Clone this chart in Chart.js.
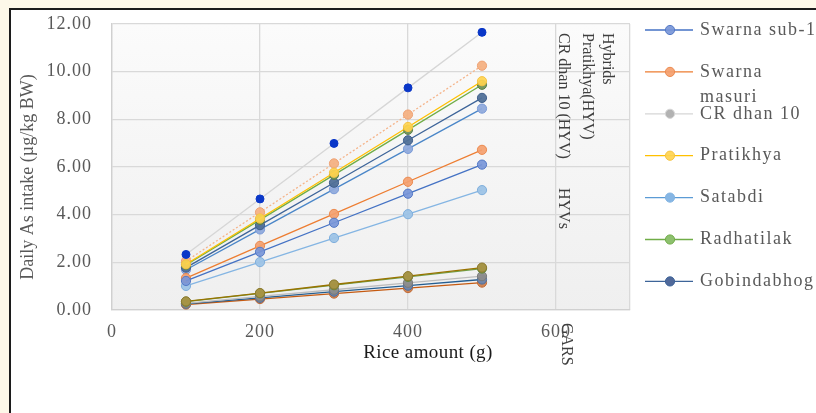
<!DOCTYPE html>
<html>
<head>
<meta charset="utf-8">
<script src="https://cdn.jsdelivr.net/npm/chart.js@4.4.1/dist/chart.umd.min.js"></script>
<style>
  html, body { margin: 0; padding: 0; background: #fdf8e9; }
  #c { display: block; }
</style>
</head>
<body>
<canvas id="c" width="816" height="413"></canvas>
<script>
// Daily arsenic intake by rice amount for each rice variety
const riceAmounts = [100, 200, 300, 400, 500];

const swarnaSub1   = [1.22, 2.44, 3.66, 4.88, 6.10];
const swarnaMasuri = [1.34, 2.69, 4.03, 5.38, 6.72];
const crDhan10     = [2.33, 4.66, 6.99, 9.32, 11.65];
const pratikhya    = [1.92, 3.84, 5.76, 7.68, 9.60];
const satabdi      = [1.01, 2.01, 3.02, 4.02, 5.03];
const radhatilak   = [1.89, 3.78, 5.67, 7.56, 9.45];
const gobindabhog  = [1.78, 3.56, 5.34, 7.12, 8.90];
const series8      = [1.69, 3.38, 5.07, 6.76, 8.45];
const series9      = [2.05, 4.10, 6.15, 8.20, 10.25];
const series10     = [0.36, 0.71, 1.07, 1.42, 1.78];
const series11     = [0.35, 0.70, 1.04, 1.39, 1.74];
const series12     = [0.28, 0.57, 0.85, 1.14, 1.42];
const series13     = [0.26, 0.51, 0.77, 1.02, 1.28];
const series14     = [0.23, 0.46, 0.69, 0.92, 1.15];

const xTicksMax = 700;
const yTicksMax = 12;

const SERIF = "'Liberation Serif', 'Times New Roman', serif";
const toPoints = vals => vals.map((v, i) => ({ x: riceAmounts[i], y: v }));

function series(label, values, line, point, pointBorder, extra) {
  return Object.assign({
    label,
    data: toPoints(values),
    borderColor: line,
    borderWidth: 1.3,
    pointBackgroundColor: point,
    pointBorderColor: pointBorder,
    pointBorderWidth: 1,
    pointRadius: 4.6,
    tension: 0,
    fill: false
  }, extra || {});
}

const datasets = [
  series('Swarna sub-1', swarnaSub1, '#4472C4', 'rgba(120,150,216,0.92)', '#5479c6'),
  series('Swarna masuri', swarnaMasuri, '#ED7D31', 'rgba(244,160,110,0.92)', '#ec8a4f'),
  series('CR dhan 10', crDhan10, '#d6d6d6', '#0a37c8', '#0a37c8', { pointRadius: 4, legendPoint: '#b2b2b2', order: -2 }),
  series('Pratikhya', pratikhya, '#FFC000', 'rgba(255,212,80,0.92)', '#f6c444'),
  series('Satabdi', satabdi, '#84b5e3', 'rgba(157,195,230,0.95)', '#7fafdd', { legendLine: '#5B9BD5', legendPoint: '#86b6e4' }),
  series('Radhatilak', radhatilak, '#70AD47', 'rgba(112,146,88,0.95)', '#5c8046', { legendPoint: '#8dc06e' }),
  series('Gobindabhog', gobindabhog, '#3d6499', 'rgba(80,112,152,0.95)', '#3f5f8c', { legendPoint: '#50699a' }),
  series('Series8', series8, '#4a86c8', 'rgba(143,170,220,0.95)', '#7b9bd8'),
  series('Series9', series9, '#f5b48a', 'rgba(244,177,131,0.95)', '#efa274', { borderDash: [2, 2] }),
  series('Series10', series10, '#997300', 'rgba(168,148,70,0.95)', '#8f7a2e', { order: -1 }),
  series('Series11', series11, '#6fa04a', 'rgba(122,154,80,0.95)', '#5f8a3e'),
  series('Series12', series12, '#bdbdbd', 'rgba(140,140,140,0.95)', '#7a7a7a'),
  series('Series13', series13, '#255E91', 'rgba(106,134,176,0.95)', '#4f6f9c'),
  series('Series14', series14, '#C55A11', 'rgba(208,128,77,0.95)', '#c06a35')
];

const legendCount = 7;
const legendWrapChars = 12;

// Page frame, plot-area shading and letter spacing for axis labels
const framePlugin = {
  id: 'frame',
  beforeDraw(chart) {
    const { ctx, chartArea: a, width, height } = chart;
    ctx.save();
    ctx.fillStyle = '#fdf8e9';
    ctx.fillRect(0, 0, width, height);
    ctx.fillStyle = '#ffffff';
    ctx.fillRect(10, 9, width, height);
    ctx.strokeStyle = '#1c1c1c';
    ctx.lineWidth = 2;
    ctx.beginPath();
    ctx.moveTo(10, height);
    ctx.lineTo(10, 9);
    ctx.lineTo(width, 9);
    ctx.stroke();
    const g = ctx.createLinearGradient(0, a.top, 0, a.bottom);
    g.addColorStop(0, '#fbfbfb');
    g.addColorStop(1, '#efefef');
    ctx.fillStyle = g;
    ctx.fillRect(a.left, a.top, a.right - a.left, a.bottom - a.top);
    ctx.restore();
    ctx.letterSpacing = '1px';
  },
  afterDraw(chart) {
    const { ctx, chartArea: a } = chart;
    ctx.save();
    ctx.letterSpacing = '0px';

    // Axis titles
    ctx.fillStyle = '#595959';
    ctx.font = `18px ${SERIF}`;
    ctx.textAlign = 'center';
    ctx.textBaseline = 'middle';
    ctx.save();
    ctx.translate(28, 177);
    ctx.rotate(-Math.PI / 2);
    ctx.fillText('Daily As intake (\u00b5g/kg BW)', 0, 0);
    ctx.restore();

    ctx.fillStyle = '#1a1a1a';
    ctx.font = `19px ${SERIF}`;
    ctx.letterSpacing = '0.4px';
    ctx.fillText('Rice amount (g)', 428, 353);
    ctx.letterSpacing = '0px';

    // Group notes written vertically beside the plot
    ctx.fillStyle = '#3f3f3f';
    ctx.font = `16px ${SERIF}`;
    ctx.textAlign = 'left';
    const notes = [
      ['Hybrids', 607, 33],
      ['Pratikhya(HYV)', 587, 33],
      ['CR dhan 10 (HYV)', 563, 33],
      ['HYVs', 563, 188],
      ['GARS', 566, 323]
    ];
    notes.forEach(([t, x, y]) => {
      ctx.save();
      ctx.translate(x, y);
      ctx.rotate(Math.PI / 2);
      ctx.fillText(t, 0, 0);
      ctx.restore();
    });

    // Legend
    ctx.font = `18px ${SERIF}`;
    ctx.letterSpacing = '1.5px';
    ctx.textBaseline = 'middle';
    const lx0 = a.right + 15, lx1 = a.right + 63, mx = a.right + 40, tx = a.right + 70;
    const y0 = 30, step = 41.9;
    chart.data.datasets.slice(0, legendCount).forEach((ds, i) => {
      const y = y0 + i * step;
      ctx.strokeStyle = ds.legendLine || ds.borderColor;
      ctx.lineWidth = 1.3;
      ctx.beginPath();
      ctx.moveTo(lx0, y);
      ctx.lineTo(lx1, y);
      ctx.stroke();
      ctx.beginPath();
      ctx.arc(mx, y, 4.6, 0, Math.PI * 2);
      ctx.fillStyle = ds.legendPoint || ds.pointBackgroundColor;
      ctx.fill();
      ctx.strokeStyle = ds.legendPoint ? ds.borderColor : ds.pointBorderColor;
      ctx.lineWidth = 1;
      ctx.stroke();
      ctx.fillStyle = '#595959';
      const lines = ds.label.length > legendWrapChars ? ds.label.split(' ') : [ds.label];
      lines.forEach((ln, k) => ctx.fillText(ln, tx, y + k * 25));
    });
    ctx.restore();
  }
};

new Chart(document.getElementById('c'), {
  type: 'line',
  data: { datasets },
  plugins: [framePlugin],
  options: {
    responsive: false,
    animation: false,
    devicePixelRatio: 1,
    layout: { padding: { left: 12, right: 186, top: 24, bottom: 0 } },
    plugins: { legend: { display: false }, tooltip: { enabled: false } },
    scales: {
      x: {
        type: 'linear',
        min: 0,
        max: xTicksMax,
        ticks: {
          stepSize: 200,
          maxRotation: 0,
          padding: 11,
          color: '#595959',
          font: { family: SERIF, size: 18 },
          callback: v => (v === xTicksMax ? '' : String(v))
        },
        grid: { color: '#d9d9d9', lineWidth: 1.3, drawTicks: false },
        border: { color: '#d0d0d0', width: 1.3 },
        afterFit: s => { s.height = 103; s.paddingLeft = 0; s.paddingRight = 0; }
      },
      y: {
        min: 0,
        max: yTicksMax,
        ticks: {
          stepSize: 2,
          padding: 20,
          color: '#595959',
          font: { family: SERIF, size: 18 },
          callback: v => v.toFixed(2)
        },
        grid: { color: '#d9d9d9', lineWidth: 1.3, drawTicks: false },
        border: { color: '#d0d0d0', width: 1.3 },
        afterFit: s => { s.width = 100; s.paddingTop = 0; s.paddingBottom = 0; }
      }
    }
  }
});
</script>
</body>
</html>
